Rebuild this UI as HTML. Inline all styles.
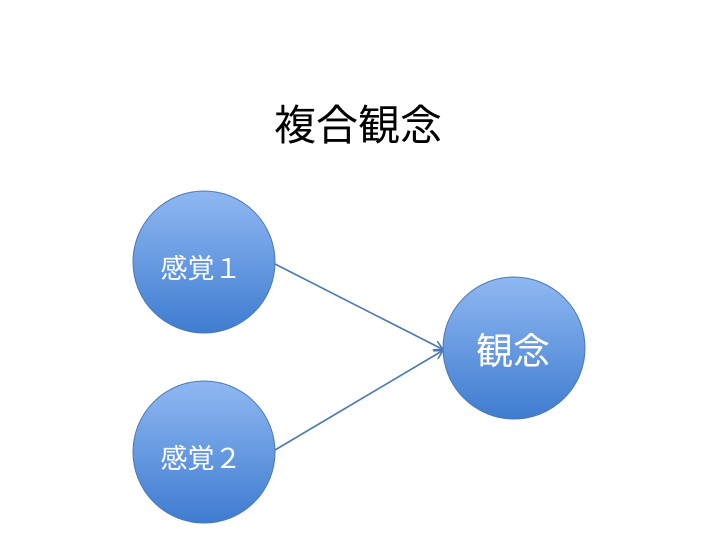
<!DOCTYPE html>
<html><head><meta charset="utf-8"><style>
html,body{margin:0;padding:0;background:#fff;width:720px;height:540px;overflow:hidden}
</style></head><body>
<svg width="720" height="540" xmlns="http://www.w3.org/2000/svg">
<defs>
<linearGradient id="g" x1="0" y1="0" x2="0" y2="1">
<stop offset="0" stop-color="#8fb8f2"/>
<stop offset="1" stop-color="#3f7cd0"/>
</linearGradient>
<marker id="a" markerWidth="10" markerHeight="10" refX="8" refY="5" orient="auto" markerUnits="userSpaceOnUse">
<path d="M0,0 L9,5 L0,10" fill="none" stroke="#4a78b8" stroke-width="1.6"/>
</marker>
</defs>
<text x="358" y="140" text-anchor="middle" font-family="Liberation Sans, Noto Sans CJK JP, sans-serif" font-size="42" fill="#000">複合観念</text>
<line x1="275" y1="264" x2="442" y2="349" stroke="#4a78b8" stroke-width="1.6" marker-end="url(#a)"/>
<line x1="275" y1="450" x2="442" y2="351" stroke="#4a78b8" stroke-width="1.6" marker-end="url(#a)"/>
<circle cx="204" cy="262" r="71" fill="url(#g)" stroke="#4a78b8" stroke-width="1"/>
<circle cx="204" cy="452" r="71" fill="url(#g)" stroke="#4a78b8" stroke-width="1"/>
<circle cx="514" cy="348" r="71" fill="url(#g)" stroke="#4a78b8" stroke-width="1"/>
<text x="201" y="278" text-anchor="middle" font-family="Liberation Sans, Noto Sans CJK JP, sans-serif" font-size="27" fill="#fff">感覚１</text>
<text x="201" y="468" text-anchor="middle" font-family="Liberation Sans, Noto Sans CJK JP, sans-serif" font-size="27" fill="#fff">感覚２</text>
<text x="513" y="364" text-anchor="middle" font-family="Liberation Sans, Noto Sans CJK JP, sans-serif" font-size="37" fill="#fff">観念</text>
</svg>
</body></html>
